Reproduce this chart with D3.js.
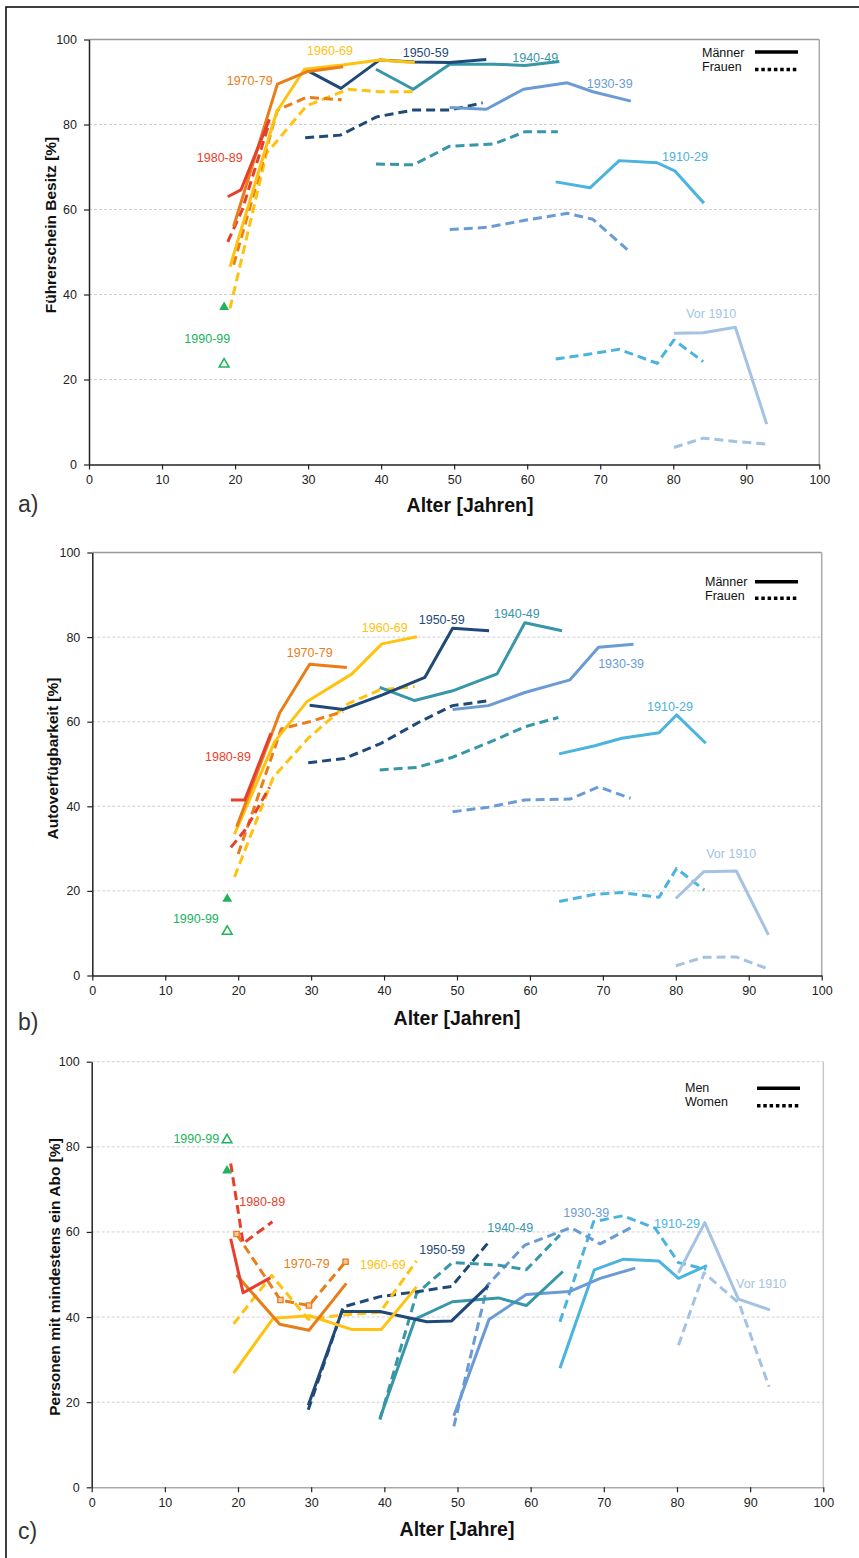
<!DOCTYPE html>
<html><head><meta charset="utf-8">
<script src="https://cdn.jsdelivr.net/npm/d3@7/dist/d3.min.js"></script>
<style>
body{margin:0;background:#fff}
text{font-family:"Liberation Sans",Arial,Helvetica,sans-serif}
</style>
</head><body>
<svg id="chart" width="859" height="1558"></svg>
<script>
// ---------- DATA ----------
const cohorts = ["Vor 1910","1910-29","1930-39","1940-49","1950-59","1960-69","1970-79","1980-89","1990-99"];
const xTicks = [0,10,20,30,40,50,60,70,80,90,100];
const yTicks = [0,20,40,60,80,100];

// a) Führerschein Besitz [%]  — [age, value]
const licenceMen = {
  "Vor 1910": [[80.1,30.9],[84.1,31.0],[88.5,32.3],[92.8,9.5]],
  "1910-29": [[63.9,66.5],[68.6,65.1],[72.6,71.5],[77.8,71.0],[80.2,69.1],[84.2,61.5]],
  "1930-39": [[49.4,84.0],[54.4,83.6],[59.5,88.3],[65.5,89.8],[69.0,87.7],[74.2,85.5]],
  "1940-49": [[39.3,93.0],[44.4,88.3],[49.4,94.2],[55.4,94.2],[59.7,93.9],[64.4,94.8]],
  "1950-59": [[29.8,92.8],[34.5,88.5],[39.8,95.2],[44.5,94.7],[49.4,94.6],[54.4,95.3]],
  "1960-69": [[19.3,46.5],[25.7,83.0],[29.5,93.0],[34.7,94.0],[39.8,95.2],[44.6,94.6]],
  "1970-79": [[19.8,56.0],[25.8,89.5],[29.8,92.4],[34.8,93.6]],
  "1980-89": [[19.0,63.0],[20.8,64.6],[24.7,81.2]],
  "1990-99": [[18.5,37.0]]
};
const licenceWomen = {
  "Vor 1910": [[80.1,4.0],[84.1,6.2],[88.5,5.4],[92.8,4.8]],
  "1910-29": [[63.9,24.8],[68.6,26.0],[72.6,27.1],[77.8,23.8],[80.1,29.3],[84.1,24.2]],
  "1930-39": [[49.4,55.3],[54.5,55.8],[59.5,57.4],[65.5,59.1],[69.0,57.7],[74.2,49.8]],
  "1940-49": [[39.3,70.7],[44.4,70.5],[49.4,74.9],[55.4,75.4],[59.7,78.3],[64.2,78.3]],
  "1950-59": [[29.6,76.9],[34.4,77.5],[39.4,81.8],[44.4,83.4],[49.4,83.4],[53.9,85.1]],
  "1960-69": [[19.3,36.7],[24.3,73.2],[29.8,84.4],[35.5,88.3],[39.8,87.7],[44.4,87.7]],
  "1970-79": [[19.8,47.0],[25.8,83.4],[29.8,86.4],[34.6,85.8]],
  "1980-89": [[19.0,52.4],[21.0,60.0],[24.7,80.5]],
  "1990-99": [[18.5,23.6]]
};

// b) Autoverfügbarkeit [%]
const carMen = {
  "Vor 1910": [[80.0,18.2],[83.8,24.5],[88.3,24.7],[92.7,9.6]],
  "1910-29": [[64.0,52.4],[68.9,54.3],[72.6,56.1],[77.7,57.4],[80.1,61.6],[84.1,54.9]],
  "1930-39": [[49.4,62.9],[54.3,63.8],[59.3,66.9],[65.5,69.9],[69.4,77.6],[74.2,78.3]],
  "1940-49": [[39.4,68.1],[44.2,65.0],[49.4,67.3],[55.5,71.3],[59.3,83.4],[64.4,81.5]],
  "1950-59": [[29.8,63.9],[34.4,62.9],[39.7,66.3],[45.6,70.5],[49.4,82.1],[54.4,81.5]],
  "1960-69": [[19.5,33.4],[25.0,55.3],[29.4,64.7],[35.6,71.3],[39.7,78.4],[44.5,80.1]],
  "1970-79": [[19.8,35.2],[25.7,62.1],[29.8,73.6],[34.9,72.8]],
  "1980-89": [[19.0,41.5],[20.9,41.5],[24.5,57.3]],
  "1990-99": [[18.5,18.1]]
};
const carWomen = {
  "Vor 1910": [[80.0,2.3],[83.8,4.3],[88.3,4.4],[92.7,1.5]],
  "1910-29": [[64.0,17.5],[68.9,19.2],[72.6,19.6],[77.7,18.5],[80.1,25.3],[83.9,20.2]],
  "1930-39": [[49.4,38.7],[54.3,39.8],[59.3,41.5],[65.5,41.7],[69.4,44.6],[73.8,41.9]],
  "1940-49": [[39.4,48.6],[44.5,49.2],[49.4,51.6],[55.5,55.9],[59.3,58.8],[63.9,61.0]],
  "1950-59": [[29.6,50.3],[34.6,51.3],[39.6,54.9],[44.9,60.0],[49.4,63.8],[54.1,64.9]],
  "1960-69": [[19.5,23.3],[24.8,46.8],[29.6,56.1],[35.1,64.3],[39.4,67.5],[44.2,68.3]],
  "1970-79": [[20.0,28.7],[25.9,58.3],[29.8,60.0],[34.4,62.4]],
  "1980-89": [[19.0,30.3],[21.0,34.5],[24.3,44.5]],
  "1990-99": [[18.5,10.4]]
};

// c) Personen mit mindestens ein Abo [%]
const aboMen = {
  "Vor 1910": [[80.2,50.4],[83.8,62.2],[88.4,44.2],[92.7,41.7]],
  "1910-29": [[64.0,28.0],[68.7,51.1],[72.7,53.6],[77.5,53.2],[80.2,49.1],[84.1,52.1]],
  "1930-39": [[49.5,16.8],[54.3,39.4],[59.4,45.3],[65.3,46.0],[69.5,49.1],[74.3,51.5]],
  "1940-49": [[39.4,16.2],[44.2,39.5],[49.3,43.6],[55.6,44.5],[59.4,42.7],[64.4,50.7]],
  "1950-59": [[29.6,19.3],[34.2,41.3],[39.4,41.3],[45.8,38.9],[49.2,39.1],[54.2,47.4]],
  "1960-69": [[19.4,26.8],[24.8,39.7],[29.8,40.3],[35.5,37.1],[39.6,37.1],[44.4,47.1]],
  "1970-79": [[19.8,49.9],[25.7,38.3],[29.7,36.9],[34.8,47.9]],
  "1980-89": [[19.0,58.4],[20.7,45.7],[24.4,49.2]],
  "1990-99": [[18.5,74.4]]
};
const aboWomen = {
  "Vor 1910": [[80.2,33.4],[83.7,50.4],[88.5,43.2],[92.6,23.6]],
  "1910-29": [[64.0,38.9],[68.6,62.4],[72.6,63.8],[77.0,60.9],[80.2,52.8],[84.0,51.2]],
  "1930-39": [[49.5,14.3],[54.1,47.5],[59.2,56.9],[65.5,61.0],[69.5,57.2],[73.7,61.0]],
  "1940-49": [[39.4,15.9],[44.4,45.5],[49.3,52.8],[55.6,52.2],[59.4,51.1],[64.0,59.3]],
  "1950-59": [[29.6,18.2],[34.4,42.4],[39.4,44.8],[44.6,46.0],[49.2,47.2],[54.3,57.7]],
  "1960-69": [[19.4,38.4],[24.6,49.8],[29.6,39.5],[34.4,40.5],[39.4,41.1],[44.4,53.2]],
  "1970-79": [[19.8,59.5],[25.8,44.0],[29.7,42.7],[34.7,53.0]],
  "1980-89": [[19.0,76.1],[20.7,57.3],[24.7,62.4]],
  "1990-99": [[18.5,81.6]]
};

// cohort annotation anchors (label, age, value) in data units
const licenceLabels = [["1960-69",33.0,96.3],["1950-59",46.1,96.0],["1970-79",22.0,89.2],["1980-89",17.9,71.1],
  ["1990-99",16.2,28.5],["1940-49",61.1,94.8],["1930-39",71.3,88.5],["1910-29",81.6,71.5],["Vor 1910",85.2,34.4]];
const carLabels = [["1980-89",18.6,50.6],["1970-79",29.8,75.2],["1960-69",40.1,81.1],["1950-59",47.9,83.2],
  ["1940-49",58.2,84.6],["1930-39",72.5,72.6],["1910-29",79.2,62.6],["Vor 1910",87.6,27.7],["1990-99",14.2,12.5]];
const aboLabels = [["1990-99",14.3,80.8],["1980-89",23.3,66.0],["1970-79",29.4,51.6],["1960-69",39.8,51.4],
  ["1950-59",47.9,54.9],["1940-49",57.2,60.1],["1930-39",67.6,63.4],["1910-29",80.0,61.0],["Vor 1910",91.5,46.9]];

// ---------- STYLE ----------
const cohortColors = {
  "Vor 1910":"#A4C2E2","1910-29":"#4AB3DE","1930-39":"#6B9BD5","1940-49":"#3796A7",
  "1950-59":"#1F4A78","1960-69":"#FFC20F","1970-79":"#E97D17","1980-89":"#E6402C","1990-99":"#21B35B"
};

const panels = [
  {men:licenceMen, women:licenceWomen, labels:licenceLabels, yTitle:"Führerschein Besitz [%]", xTitle:"Alter [Jahren]",
   tag:"a)", legend:["Männer","Frauen"], px:[89,819.3], py:[464.5,39.5], yT:[50,225], xT:[470,511.7], tagY:512,
   leg:{tx:702, ty:[57,71], lx:[755,798], ly:[52,69.5]}, topDashed:false, squares:false},
  {men:carMen, women:carWomen, labels:carLabels, yTitle:"Autoverfügbarkeit [%]", xTitle:"Alter [Jahren]",
   tag:"b)", legend:["Männer","Frauen"], px:[92.3,821.7], py:[975.5,552.5], yT:[52.5,758.5], xT:[457,1024.5], tagY:1030,
   leg:{tx:705, ty:[586,600], lx:[755,798], ly:[581.7,598.3]}, topDashed:false, squares:false},
  {men:aboMen, women:aboWomen, labels:aboLabels, yTitle:"Personen mit mindestens ein Abo [%]", xTitle:"Alter [Jahre]",
   tag:"c)", legend:["Men","Women"], px:[91.7,823.3], py:[1487.3,1061.7], yT:[54.5,1277], xT:[457,1535.5], tagY:1539,
   leg:{tx:685, ty:[1092,1106], lx:[757,800], ly:[1088.3,1105.7]}, topDashed:true, squares:true}
];

const svg = d3.select("#chart");
svg.append("rect").attr("width",859).attr("height",1558).attr("fill","#fff");
// outer frame (cut off on right & bottom)
svg.append("rect").attr("x",6).attr("y",7).attr("width",900).attr("height",1600)
  .attr("fill","none").attr("stroke","#000").attr("stroke-width",1.5);

panels.forEach(p => {
  const x = d3.scaleLinear().domain([0,100]).range(p.px);
  const y = d3.scaleLinear().domain([0,100]).range(p.py);
  const g = svg.append("g");

  // gridlines
  g.selectAll(".grid").data(yTicks.filter(t => t>0 && (t<100 || p.topDashed))).join("line")
    .attr("x1",x(0)).attr("x2",x(100)).attr("y1",d=>y(d)).attr("y2",d=>y(d))
    .attr("stroke","#cfcfcf").attr("stroke-width",1).attr("stroke-dasharray","3,2");
  if (!p.topDashed) {
    g.append("line").attr("x1",x(0)).attr("x2",x(100)).attr("y1",y(100)).attr("y2",y(100))
      .attr("stroke","#999").attr("stroke-width",1.5);
  }
  g.append("line").attr("x1",x(100)).attr("x2",x(100)).attr("y1",y(0)).attr("y2",y(100))
    .attr("stroke", p.topDashed ? "#c8c8c8" : "#aaa").attr("stroke-width",1.5);

  // axes
  const xa = g.append("g").attr("transform",`translate(0,${y(0)})`)
    .call(d3.axisBottom(x).tickValues(xTicks).tickSize(5).tickSizeOuter(0).tickPadding(6));
  const ya = g.append("g").attr("transform",`translate(${x(0)},0)`)
    .call(d3.axisLeft(y).tickValues(yTicks).tickSize(5).tickSizeOuter(0).tickPadding(7));
  [xa,ya].forEach(a => {
    a.select(".domain").attr("stroke", "#222").attr("stroke-width",1.5);
    a.selectAll(".tick line").attr("stroke","#222").attr("stroke-width",1.2);
    a.selectAll(".tick text").attr("font-size","12.5px").attr("fill","#222")
      .attr("font-family","'Liberation Sans',Arial,sans-serif");
  });
  if (p.topDashed) xa.select(".domain").attr("stroke","#aaa");

  // titles
  svg.append("text").attr("transform",`translate(${p.yT[0]},${p.yT[1]}) rotate(-90)`)
    .attr("text-anchor","middle").attr("dominant-baseline","central")
    .attr("font-weight","bold").attr("font-size","15.5px").attr("fill","#111").text(p.yTitle);
  svg.append("text").attr("x",p.xT[0]).attr("y",p.xT[1]).attr("text-anchor","middle")
    .attr("font-weight","bold").attr("font-size","19.5px").attr("fill","#111").text(p.xTitle);
  svg.append("text").attr("x",18).attr("y",p.tagY).attr("font-size","23px")
    .attr("font-family","'DejaVu Sans',Verdana,sans-serif").attr("fill","#333").text(p.tag);

  const line = d3.line().x(d=>x(d[0])).y(d=>y(d[1]));
  const lineCohorts = cohorts.filter(c => c !== "1990-99");

  // women (dashed)
  g.selectAll(".w").data(lineCohorts).join("path")
    .attr("d", c => line(p.women[c])).attr("fill","none")
    .attr("stroke", c => cohortColors[c]).attr("stroke-width",3)
    .attr("stroke-dasharray","9,5").attr("stroke-linejoin","round");
  // men (solid)
  g.selectAll(".m").data(lineCohorts).join("path")
    .attr("d", c => line(p.men[c])).attr("fill","none")
    .attr("stroke", c => cohortColors[c]).attr("stroke-width",3).attr("stroke-linejoin","round");

  if (p.squares) {
    g.selectAll(".sq").data(p.women["1970-79"]).join("path")
      .attr("transform", d => `translate(${x(d[0])},${y(d[1])})`)
      .attr("d", d3.symbol(d3.symbolSquare, 28)())
      .attr("fill","#F6C8A0").attr("stroke","#E97D17").attr("stroke-width",1.3);
  }

  // 1990-99 triangles
  const tri = d3.symbol(d3.symbolTriangle, 42)();
  g.selectAll(".tm").data(p.men["1990-99"]).join("path")
    .attr("transform", d => `translate(${x(d[0])},${y(d[1])})`).attr("d",tri)
    .attr("fill", cohortColors["1990-99"]);
  g.selectAll(".tw").data(p.women["1990-99"]).join("path")
    .attr("transform", d => `translate(${x(d[0])},${y(d[1])})`).attr("d",tri)
    .attr("fill","#fff").attr("stroke", cohortColors["1990-99"]).attr("stroke-width",1.5);

  // cohort labels
  g.selectAll(".lbl").data(p.labels).join("text")
    .attr("x", d => x(d[1])).attr("y", d => y(d[2])).attr("text-anchor","middle")
    .attr("font-size","12.5px").attr("fill", d => cohortColors[d[0]]).text(d => d[0]);

  // legend
  const L = p.leg;
  p.legend.forEach((t,i) => {
    svg.append("text").attr("x",L.tx).attr("y",L.ty[i]).attr("font-size","12.5px").attr("fill","#111").text(t);
    svg.append("line").attr("x1",L.lx[0]).attr("x2",L.lx[1]).attr("y1",L.ly[i]).attr("y2",L.ly[i])
      .attr("stroke","#000").attr("stroke-width",3.5)
      .attr("stroke-dasharray", i===0 ? null : "3.5,2.8");
  });
});
</script>
</body></html>
